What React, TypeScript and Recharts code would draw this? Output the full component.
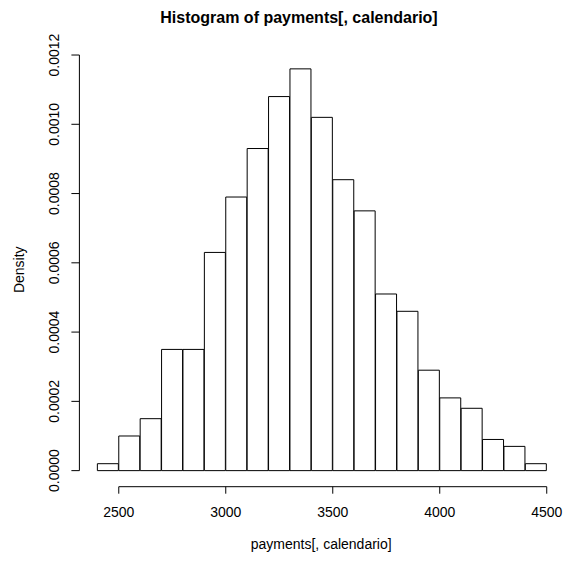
import { ComposedChart, Bar, XAxis, YAxis, ReferenceLine, Label } from "recharts";

// histogram bins (lower edge), width 100
const binStarts = [
  2400, 2500, 2600, 2700, 2800, 2900, 3000, 3100, 3200, 3300, 3400,
  3500, 3600, 3700, 3800, 3900, 4000, 4100, 4200, 4300, 4400,
];
const densities = [
  0.00002, 0.0001, 0.00015, 0.00035, 0.00035, 0.00063, 0.00079, 0.00093,
  0.00108, 0.00116, 0.00102, 0.00084, 0.00075, 0.00051, 0.00046, 0.00029,
  0.00021, 0.00018, 0.00009, 0.00007, 0.00002,
];
const binWidth = 100;
const xTicks = [2500, 3000, 3500, 4000, 4500];
const yTicks = [0, 0.0002, 0.0004, 0.0006, 0.0008, 0.001, 0.0012];

const data = binStarts.map((lo, i) => ({ mid: lo + binWidth / 2, density: densities[i] }));

const FONT = "'Liberation Sans', Arial, Helvetica, sans-serif";
const X_DOMAIN: [number, number] = [2316, 4576];
const Y_DOMAIN: [number, number] = [-0.0000464, 0.0012064];

const YTick = (props: any) => {
  const { x, y, payload } = props;
  return (
    <text
      transform={`translate(${x - 10},${y}) rotate(-90)`}
      textAnchor="middle"
      fontSize={14}
      fontFamily={FONT}
      fill="#000"
    >
      {Number(payload.value).toFixed(4)}
    </text>
  );
};

export default function App() {
  return (
    <div style={{ position: "absolute", left: 0, top: 0, width: 563, height: 563, background: "#fff", fontFamily: FONT }}>
      <div
        style={{
          position: "absolute",
          left: 0,
          top: 10,
          width: 598,
          textAlign: "center",
          fontSize: 16,
          lineHeight: "16px",
          fontWeight: "bold",
          color: "#000",
        }}
      >
        Histogram of payments[, calendario]
      </div>
      <ComposedChart
        width={563}
        height={563}
        data={data}
        margin={{ top: 52.8, right: 0, bottom: 0, left: 0 }}
        barCategoryGap={0}
        barGap={0}
      >
        <XAxis
          dataKey="mid"
          type="number"
          domain={X_DOMAIN}
          allowDataOverflow
          ticks={xTicks}
          height={76.3}
          axisLine={false}
          tickLine={{ stroke: "#000" }}
          tickSize={7}
          tickMargin={13}
          tick={{ fill: "#000", fontSize: 14, fontFamily: FONT }}
          interval={0}
        >
          <Label
            content={(p: any) => {
              const vb = p.viewBox;
              return (
                <text x={vb.x + vb.width / 2} y={549} textAnchor="middle" fontSize={14} fontFamily={FONT} fill="#000">
                  payments[, calendario]
                </text>
              );
            }}
          />
        </XAxis>
        <YAxis
          type="number"
          domain={Y_DOMAIN}
          allowDataOverflow
          ticks={yTicks}
          width={79.4}
          axisLine={false}
          tickLine={{ stroke: "#000" }}
          tickSize={8}
          tick={<YTick />}
          interval={0}
        >
          <Label
            content={(p: any) => {
              const vb = p.viewBox;
              const cy = vb.y + vb.height / 2;
              return (
                <text transform={`translate(24,${cy}) rotate(-90)`} textAnchor="middle" fontSize={14} fontFamily={FONT} fill="#000">
                  Density
                </text>
              );
            }}
          />
        </YAxis>
        <Bar dataKey="density" fill="#fff" stroke="#000" strokeWidth={1} isAnimationActive={false} />
        <ReferenceLine
          segment={[{ x: 2500, y: Y_DOMAIN[0] }, { x: 4500, y: Y_DOMAIN[0] }]}
          stroke="#000"
          ifOverflow="visible"
        />
        <ReferenceLine
          segment={[{ x: X_DOMAIN[0], y: 0 }, { x: X_DOMAIN[0], y: 0.0012 }]}
          stroke="#000"
          ifOverflow="visible"
        />
      </ComposedChart>
    </div>
  );
}
